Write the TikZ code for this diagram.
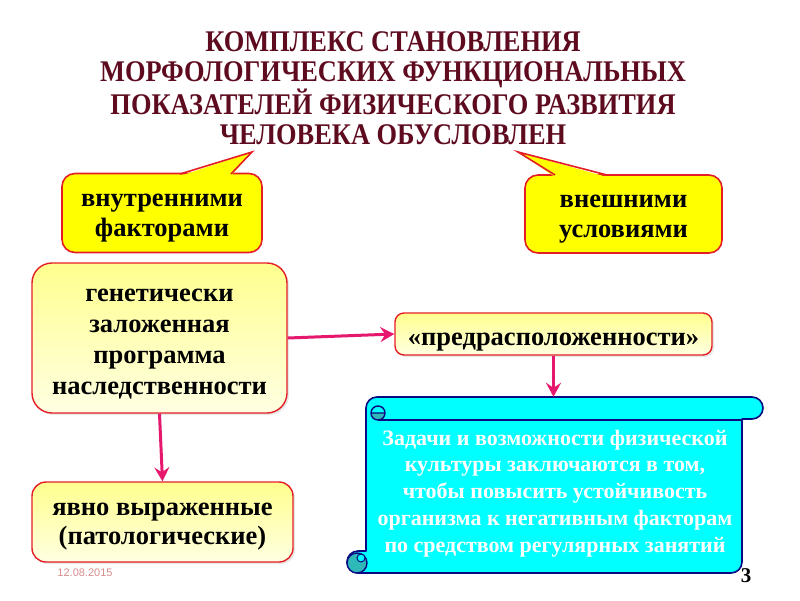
\documentclass[tikz,border=0pt]{standalone}
\usepackage{fontspec}
\setmainfont{Liberation Serif}
\setsansfont{Liberation Sans}
\newfontfamily\titlefont[FakeStretch=0.88]{Liberation Serif Bold}
\usetikzlibrary{arrows.meta,shadows}

\definecolor{titlered}{HTML}{5E0B1F}
\definecolor{bubbleyellow}{HTML}{FFFF00}
\definecolor{edgered}{HTML}{E41E26}
\definecolor{boxtop}{HTML}{FFFF8E}
\definecolor{boxbottom}{HTML}{FFFFE2}
\definecolor{linkpink}{HTML}{E6186E}
\definecolor{scrollcyan}{HTML}{00FFFF}
\definecolor{scrolledge}{HTML}{0A0A82}
\definecolor{curlteal}{HTML}{2EB8B8}
\definecolor{datepink}{HTML}{D98C8C}

\begin{document}
\begin{tikzpicture}[
    x=1pt, y=-1pt,
    >={Stealth[length=14pt,width=15pt,inset=5pt]},
    bubble/.style={rectangle, draw=edgered, fill=bubbleyellow, line width=1.6pt, rounded corners=13pt, align=center, font=\bfseries\fontsize{26.5}{30}\selectfont, text height=48pt, text depth=2pt},
    factor/.style={rectangle, draw=edgered, top color=boxtop, bottom color=boxbottom, line width=1.4pt, align=center, font=\bfseries\fontsize{26.5}{31}\selectfont, drop shadow={shadow xshift=2pt, shadow yshift=-2pt, opacity=0.18}},
    link/.style={->, line width=3pt, draw=linkpink, fill=linkpink},
    scrollbody/.style={fill=scrollcyan, draw=scrolledge, line width=1.6pt, line join=round},
    curl/.style={fill=curlteal, draw=scrolledge, line width=1.4pt}
]
\useasboundingbox (0,0) rectangle (800,600);

% title
\node[align=center, text=titlered, font=\titlefont\fontsize{30}{30}\selectfont] (title) at (393,88)
    {КОМПЛЕКС СТАНОВЛЕНИЯ\\МОРФОЛОГИЧЕСКИХ ФУНКЦИОНАЛЬНЫХ\\ПОКАЗАТЕЛЕЙ ФИЗИЧЕСКОГО РАЗВИТИЯ\\ЧЕЛОВЕКА ОБУСЛОВЛЕН};

% callouts
\node[bubble, minimum width=200pt, minimum height=79pt] (inner) at (162,213) {внутренними\\факторами};
\node[bubble, minimum width=197pt, minimum height=78pt] (outer) at (623.5,214) {внешними\\условиями};
\fill[bubbleyellow] (180,176) -- (252,152) -- (231,176) -- cycle;
\draw[edgered, line width=1.6pt, line join=miter] (180,174) -- (252,152) -- (231,174);
\fill[bubbleyellow] (555,177) -- (518,152) -- (607,177) -- cycle;
\draw[edgered, line width=1.6pt, line join=miter] (555,175) -- (518,152) -- (607,175);

% boxes
\node[factor, rounded corners=20pt, minimum width=255pt, minimum height=150pt, text height=115pt, text depth=2pt] (gen) at (159.5,338)
    {генетически\\заложенная\\программа\\наследственности};
\node[factor, rounded corners=14pt, minimum width=261pt, minimum height=80pt, text height=46pt, text depth=2pt, font=\bfseries\fontsize{26.5}{29}\selectfont] (yavno) at (162.5,522)
    {явно выраженные\\(патологические)};
\node[factor, rounded corners=9pt, minimum width=317pt, minimum height=42pt, text height=24pt, text depth=2pt] (predr) at (553.5,334)
    {«предрасположенности»};

% scroll
\filldraw[scrollbody] (366,408) arc[start angle=180, end angle=270, radius=11] -- (752,397)
    arc[start angle=270, end angle=450, radius=11] -- (742,419) -- (742,562)
    arc[start angle=0, end angle=90, radius=11] -- (358,573)
    arc[start angle=90, end angle=270, radius=11] -- (366,551) -- cycle;
\draw[scrolledge, line width=1.4pt] (378,420) -- (742,420);
\fill[curlteal] (371,413) arc[start angle=180, end angle=0, radius=7];
\draw[scrolledge, line width=1.4pt] (378,413) circle[radius=7] (371,413) -- (385,413);
\filldraw[curl] (357,563) circle[radius=10];
\filldraw[fill=scrollcyan, draw=scrolledge, line width=1pt] (361,558) circle[radius=4];
\node[align=center, text=white, font=\bfseries\fontsize{22}{26.7}\selectfont, minimum width=416pt, minimum height=176pt, text height=136pt, text depth=2pt] (task) at (555,485)
    {Задачи и возможности физической\\культуры заключаются в том,\\чтобы повысить устойчивость\\организма к негативным факторам\\по средством регулярных занятий};

% arrows
\draw[link] (gen.east) -- (predr.west);
\draw[link] (gen.south) -- (yavno.north);
\draw[link] (predr.south) -- (predr.south |- task.north);

% footer
\node[text=datepink, font=\sffamily\fontsize{11}{13}\selectfont] (date) at (85,573) {12.08.2015};
\node[font=\bfseries\fontsize{21}{24}\selectfont] (pagenum) at (746,576) {3};
\end{tikzpicture}
\end{document}
